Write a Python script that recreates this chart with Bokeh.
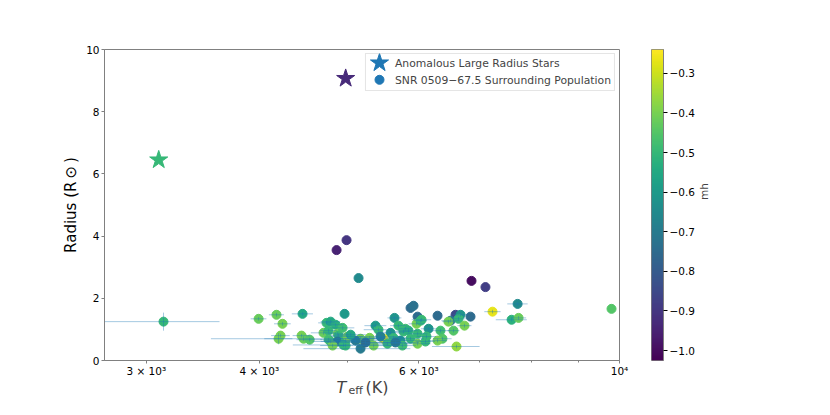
import numpy as np
from bokeh.plotting import figure
from bokeh.layouts import row, column
from bokeh.models import (Range1d, FixedTicker, LinearColorMapper, Label, LinearScale,
                          Legend, LegendItem, ColumnDataSource)
from bokeh.transform import transform
from bokeh.palettes import Viridis256
from bokeh.embed import file_html
from bokeh.resources import INLINE

# ---------------- data ----------------
star_teff = [3096, 4982]
star_radius = [6.45, 9.07]
star_mh = [-0.50, -0.93]

pop_teff = [3134, 3992, 4178, 4242, 4464, 4968, 4200, 4221, 4453, 4476,
            4546, 4745, 4795, 4856, 4709, 4770, 4881, 4770, 4893, 4795,
            4881, 4981, 4819, 4981, 5148, 4868, 4993, 5876, 5921, 5982,
            6294, 6589, 6673, 6845, 6506, 6471, 6639, 6741, 6555, 6341,
            6373, 6605, 6862, 7110, 7716, 7239, 7599, 7735, 9799, 5641,
            5698, 5800, 5967, 6043, 6152, 5375, 5416, 4943, 5585, 5771,
            5846, 5982, 5006, 5174, 5295, 5486, 5626, 5728, 5876, 6119,
            6294, 4955, 5174, 5349, 5541, 5756, 5982, 6104, 6028, 5109,
            5240, 5444, 5655, 5045]
pop_radius = [1.25, 1.34, 1.47, 1.18, 1.50, 1.50, 0.70, 0.80, 0.80, 0.70,
              0.67, 1.21, 1.25, 1.15, 0.89, 0.96, 0.86, 0.67, 0.80, 0.61,
              0.61, 0.64, 0.48, 0.48, 2.65, 3.55, 3.87, 1.69, 1.76, 1.41,
              1.44, 1.47, 1.47, 1.41, 1.28, 1.25, 1.34, 1.12, 0.96, 0.96,
              0.70, 0.45, 2.56, 2.36, 1.82, 1.57, 1.31, 1.37, 1.66, 1.37,
              1.12, 1.02, 1.18, 1.31, 1.02, 1.12, 0.99, 1.05, 0.89, 0.93,
              0.96, 0.86, 0.77, 0.70, 0.73, 0.70, 0.73, 0.64, 0.70, 0.77,
              0.64, 0.50, 0.38, 0.48, 0.54, 0.48, 0.54, 0.61, 1.28, 0.64,
              0.58, 0.77, 0.58, 0.83]
pop_mh = [-0.50, -0.42, -0.42, -0.40, -0.55, -0.60, -0.40, -0.40, -0.40, -0.42,
          -0.45, -0.50, -0.55, -0.52, -0.42, -0.50, -0.42, -0.48, -0.50, -0.48,
          -0.70, -0.50, -0.40, -0.50, -0.65, -0.95, -0.90, -0.75, -0.73, -0.75,
          -0.75, -0.85, -0.62, -0.75, -0.72, -0.40, -0.50, -0.40, -0.45, -0.48,
          -0.45, -0.37, -1.00, -0.88, -0.65, -0.27, -0.52, -0.42, -0.45, -0.62,
          -0.50, -0.48, -0.40, -0.48, -0.62, -0.60, -0.50, -0.48, -0.62, -0.50,
          -0.52, -0.50, -0.40, -0.40, -0.40, -0.27, -0.50, -0.62, -0.50, -0.50,
          -0.40, -0.50, -0.70, -0.40, -0.50, -0.48, -0.40, -0.50, -0.50, -0.70,
          -0.75, -0.68, -0.72, -0.55]
pop_teff_err = [480, 80, 80, 90, 120, 0, 150, 100, 100, 940,
                150, 100, 120, 100, 150, 100, 120, 100, 100, 120,
                300, 120, 150, 100, 0, 0, 0, 0, 0, 0,
                0, 0, 120, 0, 150, 100, 120, 120, 100, 150,
                150, 400, 0, 0, 200, 150, 300, 150, 0, 100,
                120, 100, 120, 150, 120, 150, 200, 150, 200, 120,
                150, 150, 200, 300, 200, 250, 200, 300, 200, 150,
                150, 600, 700, 250, 300, 200, 200, 150, 100, 400,
                500, 300, 350, 200]
pop_radius_err = [0.29, 0.06, 0.06, 0.06, 0.06, 0.0, 0.18, 0.06, 0.06, 0.08,
                  0.06, 0.06, 0.06, 0.06, 0.06, 0.06, 0.06, 0.06, 0.06, 0.06,
                  0.06, 0.06, 0.06, 0.06, 0.0, 0.0, 0.0, 0.0, 0.0, 0.0,
                  0.0, 0.0, 0.06, 0.0, 0.06, 0.06, 0.06, 0.06, 0.06, 0.06,
                  0.06, 0.06, 0.0, 0.0, 0.06, 0.06, 0.06, 0.06, 0.0, 0.06,
                  0.06, 0.06, 0.06, 0.06, 0.06, 0.06, 0.06, 0.06, 0.06, 0.06,
                  0.06, 0.06, 0.06, 0.06, 0.06, 0.06, 0.06, 0.06, 0.06, 0.06,
                  0.06, 0.06, 0.06, 0.06, 0.06, 0.06, 0.06, 0.06, 0.06, 0.06,
                  0.06, 0.06, 0.06, 0.06]

x_ticks = [3000, 4000, 6000, 10000]
x_tick_labels = ["3 × 10³", "4 × 10³", "6 × 10³", "10⁴"]
x_minor_ticks = [5000, 7000, 8000, 9000]
y_ticks = [0, 2, 4, 6, 8, 10]
cb_ticks = [-1.0, -0.9, -0.8, -0.7, -0.6, -0.5, -0.4, -0.3]
cb_tick_labels = ["−1.0", "−0.9", "−0.8", "−0.7", "−0.6", "−0.5", "−0.4", "−0.3"]
mh_low, mh_high = -1.025, -0.24
legend_labels = ["Anomalous Large Radius Stars", "SNR 0509−67.5 Surrounding Population"]

FONT = "DejaVu Sans"
GREY = "#808080"
TICK_FS = "10.5px"
BLUE = "#1f77b4"

# ---------------- layout sizes ----------------
TOTAL_W, TOTAL_H = 814, 399
FL, FT, FW, FH = 104, 49, 515, 313      # frame of main plot
GAP = 32                                 # frame -> colour bar
CBW = 16
CB_RIGHT = 30                            # room for colour-bar tick labels
BOT = 17                                 # room for x tick labels
ROW_H = FT + FH + BOT
MAIN_W = FL + FW + GAP
CB_FIG_W = CBW + CB_RIGHT
MH_W = TOTAL_W - MAIN_W - CB_FIG_W

mapper = LinearColorMapper(palette=Viridis256, low=mh_low, high=mh_high)

# ---------------- main figure ----------------
p = figure(width=MAIN_W, height=ROW_H, x_axis_type="log",
           x_range=Range1d(2697, 10000), y_range=Range1d(0, 10),
           output_backend="svg", toolbar_location=None,
           min_border_left=FL, min_border_right=GAP,
           min_border_top=FT, min_border_bottom=BOT)
p.grid.visible = False
p.outline_line_color = GREY

src = ColumnDataSource(dict(teff=pop_teff, radius=pop_radius, mh=pop_mh))
p.scatter("teff", "radius", source=src, marker="circle", size=9,
          fill_color=transform("mh", mapper), line_color=transform("mh", mapper))

t = np.array(pop_teff, float)
r = np.array(pop_radius, float)
te = np.array(pop_teff_err, float)
re_ = np.array(pop_radius_err, float)
p.segment(x0=t - te, x1=t + te, y0=r, y1=r, line_color=BLUE, line_alpha=0.4, line_width=1)
p.segment(x0=t, x1=t, y0=r - re_, y1=r + re_, line_color=BLUE, line_alpha=0.4, line_width=1)

ssrc = ColumnDataSource(dict(teff=star_teff, radius=star_radius, mh=star_mh))
p.scatter("teff", "radius", source=ssrc, marker="star", size=19,
          fill_color=transform("mh", mapper), line_color=transform("mh", mapper))

# legend: text entries; its symbols are drawn in a pixel-based range so they keep their sizes
leg_star = p.scatter(x=[], y=[], marker="star", size=19, color=BLUE)
leg_pop = p.scatter(x=[], y=[], marker="circle", size=9, color=BLUE)
legend = Legend(items=[LegendItem(label=legend_labels[0], renderers=[leg_star]),
                       LegendItem(label=legend_labels[1], renderers=[leg_pop])],
                location="top_right", margin=4, padding=3, spacing=4,
                label_height=13, glyph_height=13, glyph_width=20, label_standoff=6,
                label_text_font=FONT, label_text_font_size="10.8px",
                border_line_color="#cccccc", background_fill_alpha=0.0)
p.add_layout(legend)

p.extra_x_ranges = {"px": Range1d(0, FW)}
p.extra_y_ranges = {"py": Range1d(0, FH)}
p.extra_x_scales = {"px": LinearScale()}
p.extra_y_scales = {"py": LinearScale()}
sym = ColumnDataSource(dict(x=[275, 275], y=[299.5, 282.5], m=["star", "circle"], s=[19, 9]))
p.scatter("x", "y", source=sym, marker="m", size="s", color=BLUE,
          x_range_name="px", y_range_name="py", level="overlay")

p.xaxis.ticker = FixedTicker(ticks=x_ticks, minor_ticks=x_minor_ticks)
p.xaxis.major_label_overrides = {float(k): v for k, v in zip(x_ticks, x_tick_labels)}
p.yaxis.ticker = FixedTicker(ticks=y_ticks, minor_ticks=[])
for ax in (p.xaxis, p.yaxis):
    ax.axis_line_color = GREY
    ax.major_tick_line_color = GREY
    ax.minor_tick_line_color = GREY
    ax.major_tick_in = 0
    ax.major_tick_out = 3
    ax.minor_tick_in = 0
    ax.minor_tick_out = 2
    ax.major_label_text_font = FONT
    ax.major_label_text_font_size = TICK_FS
    ax.major_label_text_color = "black"
    ax.major_label_standoff = 2
p.xaxis.major_label_standoff = 1
p.yaxis.axis_label = "Radius (R\u2009\u2299\u2009)"
p.yaxis.axis_label_text_font = FONT
p.yaxis.axis_label_text_font_size = "15px"
p.yaxis.axis_label_text_font_style = "normal"
p.yaxis.axis_label_text_color = "black"
p.yaxis.axis_label_standoff = 3

# ---------------- colour bar figure ----------------
cbf = figure(width=CB_FIG_W, height=ROW_H,
             x_range=Range1d(0, 1), y_range=Range1d(mh_low, mh_high),
             x_axis_location=None, y_axis_location="right",
             output_backend="svg", toolbar_location=None,
             min_border_left=0, min_border_right=CB_RIGHT,
             min_border_top=FT, min_border_bottom=BOT)
cbf.grid.visible = False
cbf.outline_line_color = GREY
cbf.image(image=[np.linspace(mh_low, mh_high, 256).reshape(256, 1)],
          x=0, y=mh_low, dw=1, dh=mh_high - mh_low, color_mapper=mapper)
cax = cbf.yaxis[0]
cax.ticker = FixedTicker(ticks=cb_ticks, minor_ticks=[])
cax.major_label_overrides = {k: v for k, v in zip(cb_ticks, cb_tick_labels)}
cax.axis_line_color = GREY
cax.major_tick_line_color = "black"
cax.major_tick_in = 0
cax.major_tick_out = 4
cax.major_label_standoff = 2
cax.major_label_text_font = FONT
cax.major_label_text_font_size = TICK_FS
cax.major_label_text_color = "black"

# ---------------- colour bar title ("mh", reading upwards) ----------------
mhf = figure(width=MH_W, height=ROW_H, x_range=Range1d(0, 1), y_range=Range1d(0, 1),
             x_axis_location=None, y_axis_location=None,
             output_backend="svg", toolbar_location=None,
             min_border_left=0, min_border_right=0, min_border_top=0, min_border_bottom=0)
mhf.grid.visible = False
mhf.outline_line_color = None
mhf.add_layout(Label(x=6, y=ROW_H - 210, x_units="screen", y_units="screen", text="mh",
                     text_font=FONT, text_font_size=TICK_FS, angle=np.pi / 2,
                     text_align="center", text_baseline="middle"))

# ---------------- x-axis title strip ----------------
STRIP_H = TOTAL_H - ROW_H
xs = figure(width=TOTAL_W, height=STRIP_H, x_range=Range1d(0, 1), y_range=Range1d(0, 1),
            x_axis_location=None, y_axis_location=None,
            output_backend="svg", toolbar_location=None,
            min_border_left=0, min_border_right=0, min_border_top=0, min_border_bottom=0)
xs.grid.visible = False
xs.outline_line_color = None
xs.add_layout(Label(x=336, y=12, x_units="screen", y_units="screen", text="T",
                    text_font=FONT, text_font_size="16px", text_font_style="italic",
                    text_baseline="alphabetic"))
xs.add_layout(Label(x=348, y=9, x_units="screen", y_units="screen", text="eff",
                    text_font=FONT, text_font_size="11px", text_baseline="alphabetic"))
xs.add_layout(Label(x=365, y=12, x_units="screen", y_units="screen", text="(K)",
                    text_font=FONT, text_font_size="16px", text_baseline="alphabetic"))

layout = column(row(p, cbf, mhf, spacing=0), xs, spacing=0)
open("out.html", "w").write(file_html(layout, INLINE))
